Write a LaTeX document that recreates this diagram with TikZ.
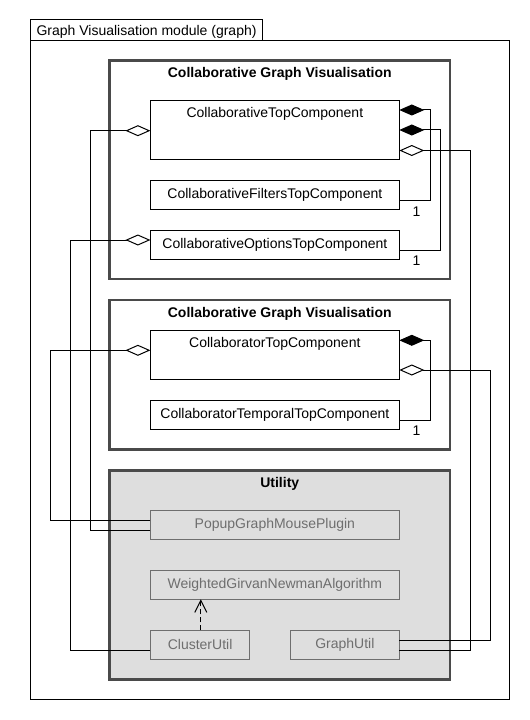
\documentclass[tikz,border=0pt]{standalone}
\usepackage{fontspec}
\setmainfont{Liberation Sans}
\usetikzlibrary{arrows.meta,calc}
\definecolor{pkgborder}{HTML}{4A4A4A}
\definecolor{utilfill}{HTML}{DEDEDE}
\definecolor{utilgray}{HTML}{6E6E6E}
\begin{document}
\begin{tikzpicture}[x=1bp,y=-1bp,
  every node/.style={font=\fontsize{14bp}{16bp}\selectfont, inner sep=0pt, outer sep=0pt},
  frm/.style={draw, line width=1bp, anchor=north west},
  pkg/.style={draw=pkgborder, line width=2.5bp, anchor=north west, minimum width=340.5bp},
  ptitle/.style={anchor=base, font=\bfseries\fontsize{14bp}{16bp}\selectfont},
  cls/.style={draw, line width=1bp, fill=white, anchor=north west, minimum width=248.9bp, minimum height=29bp},
  ucls/.style={cls, draw=utilgray, text=utilgray, fill=utilfill},
  ctext/.style={anchor=base},
  link/.style={line width=1bp},
  comp/.style={link, -{Diamond[length=25bp,width=11bp]}},
  aggr/.style={link, -{Diamond[open,fill=white,length=25bp,width=11bp]}},
  dep/.style={link, dash pattern=on 5bp off 3bp, -{Straight Barb[length=12bp,width=12bp]}},
  mult/.style={anchor=center}
]
\useasboundingbox (0,0) rectangle (530,720);
\fill[white] (0,0) rectangle (530,720);

% outer module frame
\node[frm, minimum width=232.3bp, minimum height=20.3bp] (tab) at (30.4,20) {};
\node[ctext] (tabtext) at ($(tab.south)+(0,-4.5)$) {Graph Visualisation module (graph)};
\node[frm, minimum width=479.1bp, minimum height=658.7bp] (frame) at (30.4,40.3) {};

% packages
\node[pkg, minimum height=218.7bp] (pkg1) at (109.5,60.3) {};
\node[ptitle] (pkg1t) at ($(pkg1.north)+(0,17)$) {Collaborative Graph Visualisation};
\node[pkg, minimum height=149.3bp] (pkg2) at (109.5,300) {};
\node[ptitle] (pkg2t) at ($(pkg2.north)+(0,17.3)$) {Collaborative Graph Visualisation};
\node[pkg, minimum height=209bp, fill=utilfill] (util) at (109.5,470.3) {};
\node[ptitle] (utilt) at ($(util.north)+(0,17)$) {Utility};

% classes
\node[cls, minimum height=59bp] (ctc) at (150.4,100.3) {};
\node[ctext] (ctct) at ($(ctc.north)+(0,17)$) {CollaborativeTopComponent};
\node[cls] (fil) at (150.4,180.3) {CollaborativeFiltersTopComponent};
\node[cls] (opt) at (150.4,230) {CollaborativeOptionsTopComponent};
\node[cls, minimum height=48.3bp] (ctor) at (150.4,330.7) {};
\node[ctext] (ctort) at ($(ctor.north)+(0,17)$) {CollaboratorTopComponent};
\node[cls] (tmp) at (150.4,400.3) {CollaboratorTemporalTopComponent};
\node[ucls, minimum height=28.7bp] (pop) at (150.4,510.3) {PopupGraphMousePlugin};
\node[ucls] (wg) at (150.4,570.3) {WeightedGirvanNewmanAlgorithm};
\node[ucls, minimum width=99.4bp] (cu) at (150.4,630.3) {ClusterUtil};
\node[ucls, minimum width=108.9bp] (gu) at (290.4,630.3) {GraphUtil};

% turning points
\coordinate (ra) at (430.5,0);
\coordinate (rb) at (440.5,0);
\coordinate (rc) at (470.3,0);
\coordinate (rd) at (490.5,0);
\coordinate (la) at (90.3,0);
\coordinate (lb) at (70,0);
\coordinate (lc) at (50.4,0);

% compositions
\draw[comp] (fil.east |- 0,200) -| (ra |- 0,110) -- (ctc.east |- 0,110);
\draw[comp] (opt.east |- 0,250) -| (rb |- 0,130) -- (ctc.east |- 0,130);
\draw[comp] (tmp.east |- 0,420) -| (ra |- 0,340.3) -- (ctor.east |- 0,340.3);

% aggregations
\draw[aggr] (gu.east |- 0,650) -| (rc |- 0,150.5) -- (ctc.east |- 0,150.5);
\draw[aggr] (gu.east |- 0,640) -| (rd |- 0,370) -- (ctor.east |- 0,370);
\draw[aggr] (pop.west |- 0,530) -| (la |- 0,130.7) -- (ctc.west |- 0,130.7);
\draw[aggr] (cu.west |- 0,650) -| (lb |- 0,240) -- (opt.west |- 0,240);
\draw[aggr] (pop.west |- 0,520) -| (lc |- 0,350.3) -- (ctor.west |- 0,350.3);

% dependency
\draw[dep] (cu.north -| 200.8,0) -- (wg.south -| 200.8,0);

% multiplicities
\node[mult] (m1) at (416.5,211.7) {1};
\node[mult] (m2) at (416.5,260.5) {1};
\node[mult] (m3) at (416.5,430.7) {1};
\end{tikzpicture}
\end{document}
